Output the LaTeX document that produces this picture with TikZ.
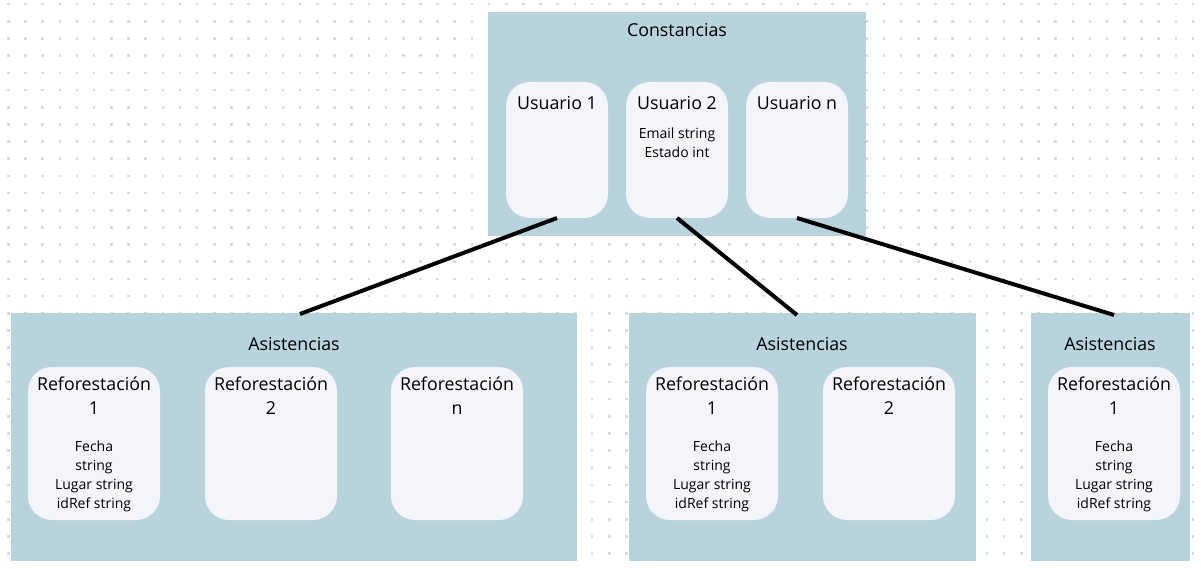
\documentclass[tikz,border=0pt]{standalone}
\usepackage{fontspec}
\setmainfont{Open Sans}
\definecolor{boxblue}{HTML}{B9D3DD}
\definecolor{card}{HTML}{F3F5FA}
\definecolor{dotc}{HTML}{D9D9E4}
\tikzset{
  group/.style={fill=boxblue, draw=none, inner sep=0pt},
  cardbox/.style={fill=card, draw=none, rounded corners=24pt, inner sep=0pt},
  title/.style={font=\fontsize{17.8}{20}\selectfont, inner sep=0pt},
  cardtitle/.style={font=\fontsize{17.8}{24}\selectfont, align=center, inner sep=0pt},
  small/.style={font=\fontsize{14}{19}\selectfont, align=center, inner sep=0pt},
  link/.style={line width=4pt, black}
}
\begin{document}
\begin{tikzpicture}[x=1pt,y=-1pt]
\useasboundingbox (0,0) rectangle (1201,569);
\fill[white] (0,0) rectangle (1201,569);
% dot grid
\foreach \i in {0,...,69}{
  \foreach \j in {0,...,33}{
    \fill[dotc] ({8.3+17.17*\i-1.3},{4.2+17.17*\j-1.3}) rectangle ++(2.6,2.6);
  }
}
% Constancias
\fill[boxblue] (488,12) rectangle (866,236);
\node[title] (tc) at (677,30) {Constancias};
\fill[card, rounded corners=24pt] (506,82) rectangle (608,218);
\fill[card, rounded corners=24pt] (626,82) rectangle (728,218);
\fill[card, rounded corners=24pt] (746,82) rectangle (848,218);
\coordinate (u1) at (557,218);
\coordinate (u2) at (677,218);
\coordinate (un) at (797,218);
\node[title] (tu1) at (557,103) {Usuario 1};
\node[title] (tu2) at (677,103) {Usuario 2};
\node[title] (tun) at (797,103) {Usuario n};
\node[small] (au2) at (677,143) {Email string\\Estado int};
% Asistencias
\fill[boxblue] (11,313) rectangle (577,561);
\fill[boxblue] (629,313) rectangle (976,561);
\fill[boxblue] (1031,313) rectangle (1190,561);
\coordinate (a1) at (300,314);
\coordinate (a2) at (797,315);
\coordinate (a3) at (1114,315);
\node[title] (ta1) at (294,344) {Asistencias};
\node[title] (ta2) at (802,344) {Asistencias};
\node[title] (ta3) at (1110,344) {Asistencias};
% cards
\foreach \x in {28,205,391,646,823,1048}{
  \fill[card, rounded corners=24pt] (\x,367) rectangle ++(132,153);
}
\node[cardtitle, anchor=north] (r11) at (94,377) {Reforestación\\1};
\node[cardtitle, anchor=north] (r12) at (271,377) {Reforestación\\2};
\node[cardtitle, anchor=north] (r1n) at (457,377) {Reforestación\\n};
\node[cardtitle, anchor=north] (r21) at (712,377) {Reforestación\\1};
\node[cardtitle, anchor=north] (r22) at (889,377) {Reforestación\\2};
\node[cardtitle, anchor=north] (r31) at (1114,377) {Reforestación\\1};
\node[small] (d11) at (94,476) {Fecha\\string\\Lugar string\\idRef string};
\node[small] (d21) at (712,476) {Fecha\\string\\Lugar string\\idRef string};
\node[small] (d31) at (1114,476) {Fecha\\string\\Lugar string\\idRef string};
% links
\draw[link] (u1) -- (a1);
\draw[link] (u2) -- (a2);
\draw[link] (un) -- (a3);
\end{tikzpicture}
\end{document}
